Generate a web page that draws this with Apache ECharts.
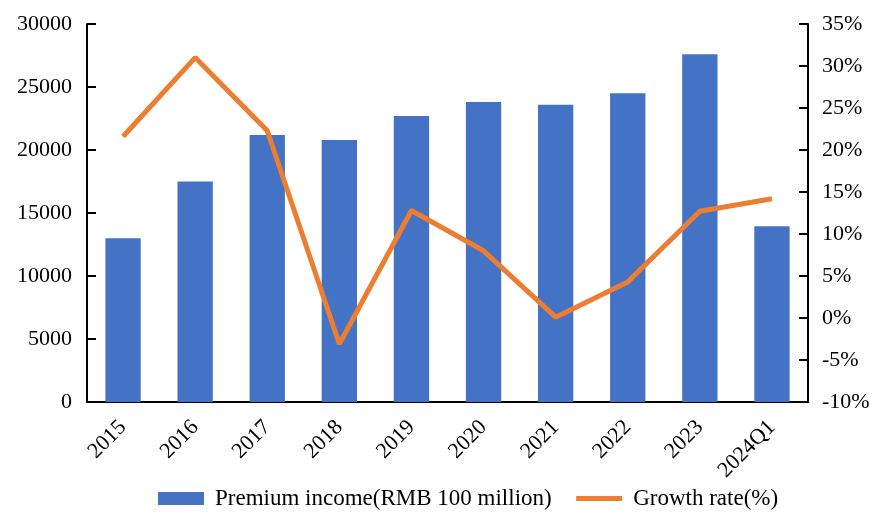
<!DOCTYPE html>
<html>
<head>
<meta charset="utf-8">
<script src="https://cdn.jsdelivr.net/npm/echarts@6/dist/echarts.min.js"></script>
<style>
  html, body { margin: 0; padding: 0; background: #fff; }
  #chart { width: 877px; height: 515px; }
</style>
</head>
<body>
<div id="chart"></div>
<script>
// 数据
const categories = ['2015', '2016', '2017', '2018', '2019', '2020', '2021', '2022', '2023', '2024Q1']
const premiumIncome = [13000, 17500, 21200, 20800, 22700, 23800, 23600, 24500, 27600, 13950]
const growthRate = [21.6, 31.0, 22.3, -3.1, 12.8, 8.0, 0.1, 4.3, 12.7, 14.2]

const font = 'Liberation Serif, Times New Roman, serif'

const chart = echarts.init(document.getElementById('chart'))

const option = {
  animation: false,
  grid: { left: 87, right: 69, top: 24, bottom: 113 },
  legend: {
    bottom: 0,
    left: 153,
    itemWidth: 46,
    itemHeight: 13,
    itemGap: 22,
    textStyle: { fontFamily: font, fontSize: 23, color: '#000', padding: [0, 0, 0, 6] },
    data: [
      { name: 'Premium income(RMB 100 million)', icon: 'rect' },
      { name: 'Growth rate(%)', itemStyle: { opacity: 0 }, lineStyle: { width: 5 } }
    ]
  },
  xAxis: {
    type: 'category',
    data: categories,
    axisLine: { lineStyle: { color: '#000', width: 2 } },
    axisTick: { inside: true, length: 9, lineStyle: { color: '#000', width: 2 } },
    axisLabel: { rotate: 45, fontFamily: font, fontSize: 22, color: '#000', margin: 22 }
  },
  yAxis: [
    {
      type: 'value',
      min: 0,
      max: 30000,
      interval: 5000,
      splitLine: { show: false },
      axisLine: { show: true, lineStyle: { color: '#000', width: 2 } },
      axisTick: { show: true, inside: true, length: 9, lineStyle: { color: '#000', width: 2 } },
      axisLabel: { fontFamily: font, fontSize: 22, color: '#000', margin: 15, formatter: v => String(v) }
    },
    {
      type: 'value',
      min: -10,
      max: 35,
      interval: 5,
      splitLine: { show: false },
      axisLine: { show: true, lineStyle: { color: '#000', width: 2 } },
      axisTick: { show: true, inside: true, length: 9, lineStyle: { color: '#000', width: 2 } },
      axisLabel: { fontFamily: font, fontSize: 22, color: '#000', margin: 14, formatter: '{value}%' }
    }
  ],
  series: [
    {
      name: 'Premium income(RMB 100 million)',
      type: 'bar',
      data: premiumIncome,
      barWidth: '49%',
      itemStyle: { color: '#4472C4' }
    },
    {
      name: 'Growth rate(%)',
      type: 'line',
      yAxisIndex: 1,
      data: growthRate,
      symbol: 'none',
      lineStyle: { color: '#ED7D31', width: 5 },
      itemStyle: { color: '#ED7D31' }
    }
  ]
}

chart.setOption(option)
</script>
</body>
</html>
